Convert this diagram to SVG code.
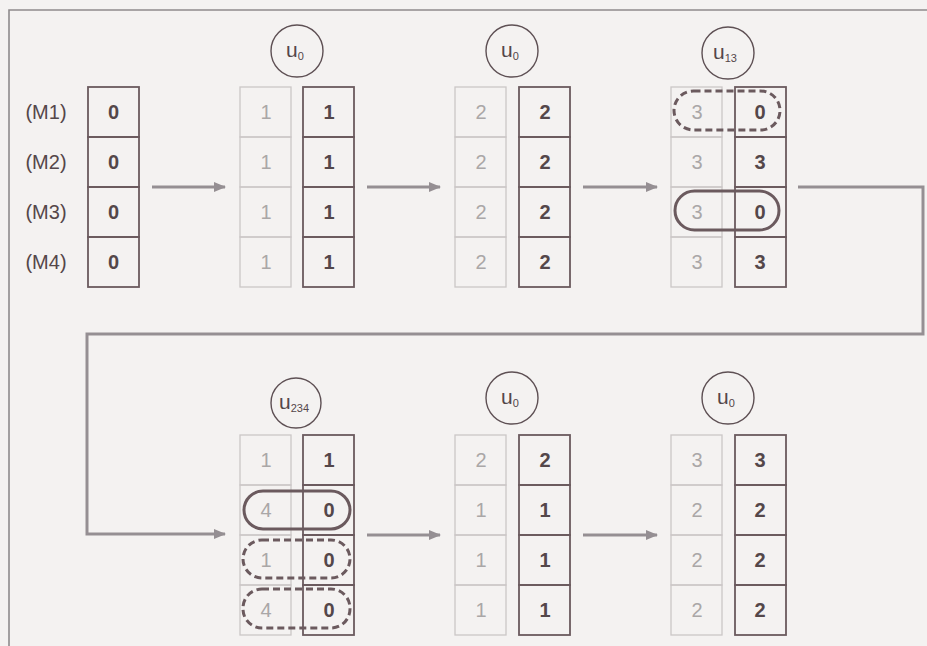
<svg xmlns="http://www.w3.org/2000/svg" width="927" height="646" viewBox="0 0 927 646">
<style>
.bg{fill:#f4f2f1}
.frame{fill:none;stroke:#8e8a8c;stroke-width:1.6}
.fc{fill:none;stroke:#cbc7c7;stroke-width:1.3}
.bc{fill:none;stroke:#6b5a5e;stroke-width:1.8}
.ft{font-family:"Liberation Sans",Arial,sans-serif;font-size:20px;fill:#aaa7a7;text-anchor:middle}
.bt{font-family:"Liberation Sans",Arial,sans-serif;font-size:20px;font-weight:bold;fill:#54474a;text-anchor:middle}
.lab{font-family:"Liberation Sans",Arial,sans-serif;font-size:20px;fill:#54474a;text-anchor:middle}
.circ{fill:none;stroke:#5e5054;stroke-width:1.4}
.ut{font-family:"Liberation Sans",Arial,sans-serif;font-size:21px;fill:#54474a;text-anchor:middle}
.sub{font-size:11px}
.conn{fill:none;stroke:#958f93;stroke-width:3}
.pill{fill:none;stroke:#6b5a5e;stroke-width:3}
.dpill{fill:none;stroke:#6b5a5e;stroke-width:3;stroke-dasharray:7 4}
</style>
<defs>
<marker id="ah" viewBox="0 0 12 10" refX="11" refY="5" markerWidth="12" markerHeight="10" markerUnits="userSpaceOnUse" orient="auto">
<path d="M0,0 L12,5 L0,10 Z" fill="#958f93"/>
</marker>
<g id="fcol"><rect class="fc" x="0" y="0" width="51" height="50"/><rect class="fc" x="0" y="50" width="51" height="50"/><rect class="fc" x="0" y="100" width="51" height="50"/><rect class="fc" x="0" y="150" width="51" height="50"/></g>
<g id="bcol"><rect class="bc" x="0" y="0" width="51" height="50"/><rect class="bc" x="0" y="50" width="51" height="50"/><rect class="bc" x="0" y="100" width="51" height="50"/><rect class="bc" x="0" y="150" width="51" height="50"/></g>
</defs>
<rect class="bg" x="0" y="0" width="927" height="646"/>
<path class="frame" d="M9,646 L9,10 L927,10"/>

<g id="connectors">
<line class="conn" x1="152" y1="187" x2="225" y2="187" marker-end="url(#ah)"/>
<line class="conn" x1="367" y1="187" x2="440" y2="187" marker-end="url(#ah)"/>
<line class="conn" x1="583" y1="187" x2="657" y2="187" marker-end="url(#ah)"/>
<path class="conn" d="M798,187 L923,187 L923,334 L87,334 L87,534 L225,534" marker-end="url(#ah)"/>
<line class="conn" x1="367" y1="535" x2="440" y2="535" marker-end="url(#ah)"/>
<line class="conn" x1="583" y1="535" x2="657" y2="535" marker-end="url(#ah)"/>
</g>

<g id="labels">
<text class="lab" x="46" y="119">(M1)</text>
<text class="lab" x="46" y="169">(M2)</text>
<text class="lab" x="46" y="219">(M3)</text>
<text class="lab" x="46" y="269">(M4)</text>
</g>

<g id="state0">
<use href="#bcol" x="88" y="87"/>
<text class="bt" x="113.5" y="119">0</text><text class="bt" x="113.5" y="169">0</text><text class="bt" x="113.5" y="219">0</text><text class="bt" x="113.5" y="269">0</text>
</g>

<g id="u-top1"><circle class="circ" cx="297" cy="51" r="26"/><text class="ut" x="295" y="57">u<tspan class="sub" dy="3">0</tspan></text></g>
<g id="state1">
<use href="#fcol" x="240" y="87"/><use href="#bcol" x="303" y="87"/>
<text class="ft" x="266" y="119">1</text><text class="ft" x="266" y="169">1</text><text class="ft" x="266" y="219">1</text><text class="ft" x="266" y="269">1</text>
<text class="bt" x="329" y="119">1</text><text class="bt" x="329" y="169">1</text><text class="bt" x="329" y="219">1</text><text class="bt" x="329" y="269">1</text>
</g>

<g id="u-top2"><circle class="circ" cx="512" cy="51" r="26"/><text class="ut" x="510" y="57">u<tspan class="sub" dy="3">0</tspan></text></g>
<g id="state2">
<use href="#fcol" x="455" y="87"/><use href="#bcol" x="519" y="87"/>
<text class="ft" x="481" y="119">2</text><text class="ft" x="481" y="169">2</text><text class="ft" x="481" y="219">2</text><text class="ft" x="481" y="269">2</text>
<text class="bt" x="545" y="119">2</text><text class="bt" x="545" y="169">2</text><text class="bt" x="545" y="219">2</text><text class="bt" x="545" y="269">2</text>
</g>

<g id="u-top3"><circle class="circ" cx="728" cy="53" r="26"/><text class="ut" x="725" y="59">u<tspan class="sub" dy="3">13</tspan></text></g>
<g id="state3">
<use href="#fcol" x="671" y="87"/><use href="#bcol" x="735" y="87"/>
<text class="ft" x="697" y="119">3</text><text class="ft" x="697" y="169">3</text><text class="ft" x="697" y="219">3</text><text class="ft" x="697" y="269">3</text>
<text class="bt" x="760" y="119">0</text><text class="bt" x="760" y="169">3</text><text class="bt" x="760" y="219">0</text><text class="bt" x="760" y="269">3</text>
<rect class="dpill" x="674" y="91" width="106" height="39" rx="19.5"/>
<rect class="pill" x="675" y="191" width="104" height="39" rx="19.5"/>
</g>

<g id="u-bot1"><circle class="circ" cx="296" cy="403" r="25"/><text class="ut" x="294" y="409">u<tspan class="sub" dy="3">234</tspan></text></g>
<g id="state4">
<use href="#fcol" x="240" y="435"/><use href="#bcol" x="303" y="435"/>
<text class="ft" x="266" y="467">1</text><text class="ft" x="266" y="517">4</text><text class="ft" x="266" y="567">1</text><text class="ft" x="266" y="617">4</text>
<text class="bt" x="329" y="467">1</text><text class="bt" x="329" y="517">0</text><text class="bt" x="329" y="567">0</text><text class="bt" x="329" y="617">0</text>
<rect class="pill" x="244" y="491" width="106" height="38" rx="19"/>
<rect class="dpill" x="243" y="540" width="107" height="38" rx="19"/>
<rect class="dpill" x="243" y="589" width="107" height="39" rx="19"/>
</g>

<g id="u-bot2"><circle class="circ" cx="512" cy="398" r="26"/><text class="ut" x="510" y="404">u<tspan class="sub" dy="3">0</tspan></text></g>
<g id="state5">
<use href="#fcol" x="455" y="435"/><use href="#bcol" x="519" y="435"/>
<text class="ft" x="481" y="467">2</text><text class="ft" x="481" y="517">1</text><text class="ft" x="481" y="567">1</text><text class="ft" x="481" y="617">1</text>
<text class="bt" x="545" y="467">2</text><text class="bt" x="545" y="517">1</text><text class="bt" x="545" y="567">1</text><text class="bt" x="545" y="617">1</text>
</g>

<g id="u-bot3"><circle class="circ" cx="728" cy="398" r="26"/><text class="ut" x="726" y="404">u<tspan class="sub" dy="3">0</tspan></text></g>
<g id="state6">
<use href="#fcol" x="671" y="435"/><use href="#bcol" x="735" y="435"/>
<text class="ft" x="697" y="467">3</text><text class="ft" x="697" y="517">2</text><text class="ft" x="697" y="567">2</text><text class="ft" x="697" y="617">2</text>
<text class="bt" x="760" y="467">3</text><text class="bt" x="760" y="517">2</text><text class="bt" x="760" y="567">2</text><text class="bt" x="760" y="617">2</text>
</g>
</svg>
